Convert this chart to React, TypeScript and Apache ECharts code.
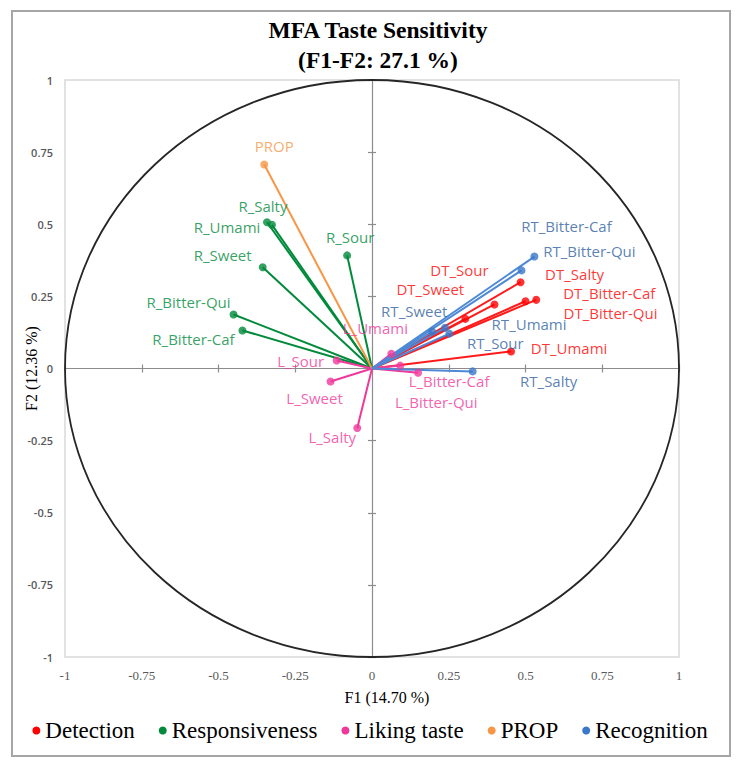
import { useEffect, useRef } from "react";
import * as echarts from "echarts";

// ---- data ----
const detectionNames = ["DT_Sour", "DT_Sweet", "DT_Salty", "DT_Bitter-Caf", "DT_Bitter-Qui", "DT_Umami"];
const detectionF1 = [0.399, 0.304, 0.484, 0.535, 0.5, 0.453];
const detectionF2 = [0.222, 0.172, 0.299, 0.238, 0.233, 0.059];

const responsivenessNames = ["R_Salty", "R_Umami", "R_Sour", "R_Sweet", "R_Bitter-Qui", "R_Bitter-Caf"];
const responsivenessF1 = [-0.326, -0.342, -0.081, -0.356, -0.451, -0.422];
const responsivenessF2 = [0.498, 0.507, 0.392, 0.351, 0.187, 0.132];

const likingNames = ["L_Sour", "L_Sweet", "L_Salty", "L_Umami", "L_Bitter-Caf", "L_Bitter-Qui"];
const likingF1 = [-0.115, -0.135, -0.048, 0.063, 0.15, 0.092];
const likingF2 = [0.028, -0.045, -0.206, 0.051, -0.015, 0.01];

const propNames = ["PROP"];
const propF1 = [-0.351];
const propF2 = [0.707];

const recognitionNames = ["RT_Bitter-Caf", "RT_Bitter-Qui", "RT_Sweet", "RT_Umami", "RT_Sour", "RT_Salty"];
const recognitionF1 = [0.487, 0.529, 0.196, 0.238, 0.252, 0.328];
const recognitionF2 = [0.34, 0.388, 0.128, 0.141, 0.121, -0.01];

const groupNames = ["Detection", "Responsiveness", "Liking taste", "PROP", "Recognition"];
const axisTicks = [-1, -0.75, -0.5, -0.25, 0, 0.25, 0.5, 0.75, 1];

// ---- layout / style (not data) ----
const labelOffsets: Record<string, [number, number]> = {
  "DT_Sour": [-35, -34],
  "DT_Sweet": [-35, -30],
  "DT_Salty": [54, -8],
  "DT_Bitter-Caf": [73, -7],
  "DT_Bitter-Qui": [85, 12],
  "DT_Umami": [58, -3],
  "R_Salty": [-9, -19],
  "R_Umami": [-40, 5],
  "R_Sour": [3, -18],
  "R_Sweet": [-40, -12],
  "R_Bitter-Qui": [-45, -13],
  "R_Bitter-Caf": [-49, 9],
  "L_Sour": [-36, 1],
  "L_Sweet": [-16, 17],
  "L_Salty": [-25, 9],
  "L_Umami": [-16, -26],
  "L_Bitter-Caf": [31, 8],
  "L_Bitter-Qui": [36, 36],
  "PROP": [10, -19],
  "RT_Bitter-Caf": [45, -44],
  "RT_Bitter-Qui": [55, -6],
  "RT_Sweet": [-18, -21],
  "RT_Umami": [84, -4],
  "RT_Sour": [46, 9],
  "RT_Salty": [76, 10],
};

const groups = [
  { name: groupNames[0], names: detectionNames, f1: detectionF1, f2: detectionF2, color: "#FF0000", line: "#FF1A1A", label: "#FF0000" },
  { name: groupNames[1], names: responsivenessNames, f1: responsivenessF1, f2: responsivenessF2, color: "#008A3A", line: "#008A3A", label: "#008A3A" },
  { name: groupNames[2], names: likingNames, f1: likingF1, f2: likingF2, color: "#F0389B", line: "#F0389B", label: "#F0389B" },
  { name: groupNames[3], names: propNames, f1: propF1, f2: propF2, color: "#F79646", line: "#F79646", label: "#F79646" },
  { name: groupNames[4], names: recognitionNames, f1: recognitionF1, f2: recognitionF2, color: "#3A78C9", line: "#4D89D6", label: "#2F5FA0" },
];

const TIMES = "Liberation Serif";
const SANS = "Open Sans";

export default function App() {
  const ref = useRef<HTMLDivElement>(null);

  useEffect(() => {
    document.body.style.margin = "0";
    if (!ref.current) return;
    const chart = echarts.init(ref.current, null, { renderer: "svg" });

    const series: any[] = [];
    groups.forEach((g) => {
      g.names.forEach((n, i) => {
        series.push({
          type: "line",
          name: g.name,
          data: [[0, 0], [g.f1[i], g.f2[i]]],
          symbol: "none",
          silent: true,
          lineStyle: { color: g.line, width: 2 },
          itemStyle: { color: g.color },
          z: 2,
        });
      });
    });
    groups.forEach((g) => {
      series.push({
        type: "scatter",
        name: g.name,
        symbol: "circle",
        symbolSize: 8,
        itemStyle: { color: g.color },
        z: 3,
        label: {
          show: true,
          position: "inside",
          formatter: "{b}",
          color: g.label,
          fontFamily: SANS,
          fontSize: 15,
          lineHeight: 15,
        },
        data: g.names.map((n, i) => ({
          name: n,
          value: [g.f1[i], g.f2[i]],
          label: { offset: labelOffsets[n] || [0, 0] },
        })),
      });
    });

    const baseAxis = {
      type: "value",
      min: axisTicks[0],
      max: axisTicks[axisTicks.length - 1],
      interval: 0.25,
      splitLine: { show: false },
    };
    const zeroLine = { color: "#8C8C8C", width: 1.2 };

    chart.setOption({
      animation: false,
      backgroundColor: "#ffffff",
      textStyle: { fontFamily: TIMES },
      title: {
        text: "MFA Taste Sensitivity\n(F1-F2: 27.1 %)",
        left: 373,
        top: 10,
        textAlign: "center",
        textStyle: { fontFamily: TIMES, fontWeight: "bold", fontSize: 23.5, lineHeight: 30, color: "#000" },
      },
      legend: {
        data: groupNames,
        left: "center",
        top: 714,
        icon: "circle",
        itemWidth: 8,
        itemHeight: 8,
        itemGap: 24,
        itemTextGap: 8,
        textStyle: { fontFamily: TIMES, fontSize: 23, color: "#000" },
      },
      grid: { left: 65, right: 61, top: 80, bottom: 110, show: true, borderColor: "#D9D9D9", borderWidth: 1.5 },
      xAxis: [
        {
          ...baseAxis,
          position: "bottom",
          axisLine: { show: false, onZero: false },
          axisTick: { show: false },
          axisLabel: { fontFamily: TIMES, fontSize: 13, color: "#595959", margin: 12 },
          name: "F1 (14.70 %)",
          nameLocation: "middle",
          nameGap: 32,
          nameMoveOverlap: false,
          nameTextStyle: { fontFamily: TIMES, fontSize: 16, color: "#000", padding: [0, 0, 0, 30] },
        },
        {
          ...baseAxis,
          position: "bottom",
          axisLine: { show: true, onZero: true, onZeroAxisIndex: 0, lineStyle: zeroLine },
          axisTick: { show: true, length: 4, lineStyle: zeroLine },
          axisLabel: { show: false },
        },
        {
          ...baseAxis,
          position: "bottom",
          axisLine: { show: false, onZero: true, onZeroAxisIndex: 0 },
          axisTick: { show: true, inside: true, length: 4, lineStyle: zeroLine },
          axisLabel: { show: false },
        },
      ],
      yAxis: [
        {
          ...baseAxis,
          position: "left",
          axisLine: { show: false, onZero: false },
          axisTick: { show: false },
          axisLabel: { fontFamily: SANS, fontSize: 11, fontWeight: 600, color: "#595959", margin: 12 },
          name: "F2 (12.36 %)",
          nameLocation: "middle",
          nameGap: 26,
          nameRotate: 90,
          nameMoveOverlap: false,
          nameTextStyle: { fontFamily: TIMES, fontSize: 16, color: "#000" },
        },
        {
          ...baseAxis,
          position: "left",
          axisLine: { show: true, onZero: true, onZeroAxisIndex: 0, lineStyle: zeroLine },
          axisTick: { show: true, length: 4, lineStyle: zeroLine },
          axisLabel: { show: false },
        },
        {
          ...baseAxis,
          position: "left",
          axisLine: { show: false, onZero: true, onZeroAxisIndex: 0 },
          axisTick: { show: true, inside: true, length: 4, lineStyle: zeroLine },
          axisLabel: { show: false },
        },
      ],
      series,
    });

    // unit correlation circle and outer frame, placed through the chart's own scales
    const c = chart.convertToPixel({ gridIndex: 0 }, [0, 0]) as number[];
    const px = chart.convertToPixel({ gridIndex: 0 }, [1, 0]) as number[];
    const py = chart.convertToPixel({ gridIndex: 0 }, [0, 1]) as number[];
    chart.setOption({
      graphic: [
        {
          type: "ellipse",
          shape: { cx: c[0], cy: c[1], rx: px[0] - c[0], ry: c[1] - py[1] },
          style: { fill: "none", stroke: "#262626", lineWidth: 1.8 },
          z: 1,
          silent: true,
        },
        {
          type: "rect",
          shape: { x: 12, y: 11, width: 718, height: 745 },
          style: { fill: "none", stroke: "#A6A6A6", lineWidth: 2 },
          z: 0,
          silent: true,
        },
      ],
    });

    return () => chart.dispose();
  }, []);

  return <div ref={ref} style={{ width: 740, height: 767 }} />;
}
